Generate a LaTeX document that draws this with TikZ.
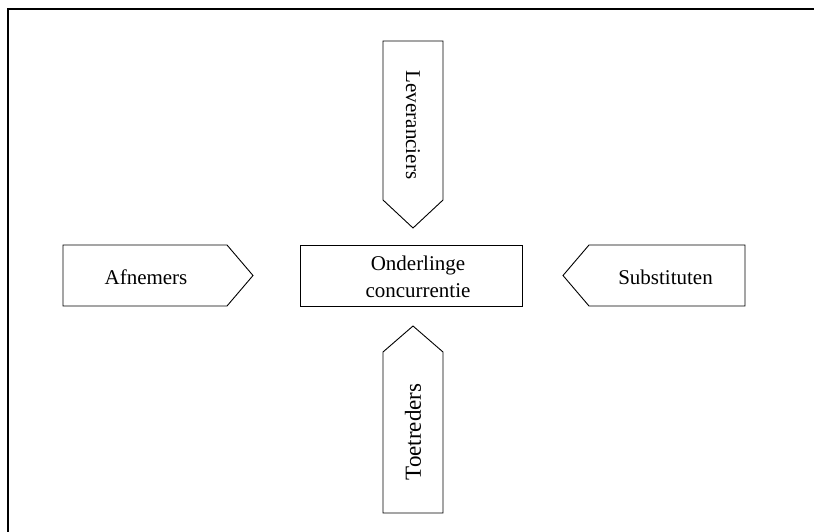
\documentclass[tikz,border=0pt]{standalone}
\usepackage{fontspec}
\setmainfont{Liberation Serif}
\usetikzlibrary{positioning}

\tikzset{
  force/.style={draw, line width=0.9pt, fill=white},
  label text/.style={font=\fontsize{21}{27}\selectfont, align=center}
}

\begin{document}
\begin{tikzpicture}[x=1pt, y=-1pt]
  \useasboundingbox (0,0) rectangle (814,532);
  % frame
  \draw[line width=1.3pt] (8,532) -- (8,9) -- (814,9);
  % centre
  \draw[force] (300,245) rectangle (522,306);
  \node[label text] (centre) at (418,277) {Onderlinge\\concurrentie};
  % top
  \draw[force] (383,41) -- (443,41) -- (443,200) -- (413,228) -- (383,200) -- cycle;
  \node[label text, rotate=-90] (lev) at (413,125) {Leveranciers};
  % bottom
  \draw[force] (383,513) -- (383,352) -- (413,326) -- (443,352) -- (443,513) -- cycle;
  \node[label text, font=\fontsize{23}{27}\selectfont, rotate=90] (toe) at (413,432) {Toetreders};
  % left
  \draw[force] (63,245) -- (227,245) -- (253,275.5) -- (227,306) -- (63,306) -- cycle;
  \node[label text] (afn) at (146,277) {Afnemers};
  % right
  \draw[force] (745,245) -- (589,245) -- (563,275.5) -- (589,306) -- (745,306) -- cycle;
  \node[label text] (sub) at (665.5,277) {Substituten};
\end{tikzpicture}
\end{document}
